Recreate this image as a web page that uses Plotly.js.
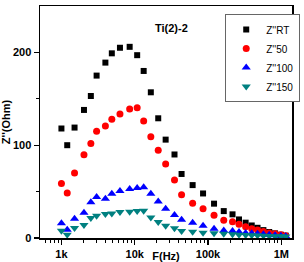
<!DOCTYPE html>
<html>
<head>
<meta charset="utf-8">
<script src="https://cdn.plot.ly/plotly-3.0.1.min.js"></script>
<style>html,body{margin:0;padding:0;background:#fff;}#chart{width:304px;height:262px;}</style>
</head>
<body>
<div id="chart"></div>
<script>
// Frequencies (Hz)
const freq = [1000,1200,1510,2030,2520,3020,3980,4870,6290,8530,10800,13250,16590,20930,26430,34900,43600,61700,85600,120900,164000,216000,265000,326000,395000,474000,570000,684000,822000,988000,1150000];
// Z'' values (Ohm)
const zRT  = [118,100,119,138,153,175,189,199,205,206,197,180,157,129,106,90,69,57,48,37,29,25.5,20,16.5,13.5,11,8.5,6.5,5,3.5,2.5];
const z50  = [58.6,48.5,70,89.6,101.7,115,120.8,128,133.7,139.1,140.4,126,109,94.6,79.7,62.5,46.6,37.4,31.6,24.5,19,17.5,14.8,12,10,8.5,7,5.5,4.5,3.5,2.5];
const z100 = [15.9,8.9,20.8,27.2,38.5,44.2,42.4,47.8,50.7,52.9,53.9,54.6,47.8,39.2,31.6,24.8,19.7,16.5,13.3,10,8,7.5,6.5,5.5,5,4.5,4,3.5,3,2.5,2];
const z150 = [7.9,3.6,10.7,13.9,21.5,23.9,25.8,26.5,28,28.3,29,29.4,22.2,17.3,13.3,10.5,7.5,6.8,5.7,5,4.5,4,3.5,3.2,3,2.8,2.5,2.2,2,1.8,1.5];
const seriesNames = ["Z''RT","Z''50","Z''100","Z''150"];
const xTickVals = [1000,10000,100000,1000000];
const xTickText = ["1k","10k","100k","1M"];
const xMinorVals = [600,700,800,900,2000,3000,4000,5000,6000,7000,8000,9000,20000,30000,40000,50000,60000,70000,80000,90000,200000,300000,400000,500000,600000,700000,800000,900000];

const styles = [
  {symbol:'square', color:'#000000', size:6},
  {symbol:'circle', color:'#ff0000', size:7},
  {symbol:'triangle-up', color:'#0000ff', size:8},
  {symbol:'triangle-down', color:'#008080', size:8}
];
const ys = [zRT, z50, z100, z150];
const traces = ys.map((y,i)=>({
  x: freq, y: y, type:'scatter', mode:'markers', name: seriesNames[i],
  marker:{symbol:styles[i].symbol, color:styles[i].color, size:styles[i].size, line:{width:0}}
}));

const font = {family:'Liberation Sans, Arial, sans-serif', size:11, color:'#000'};
const layout = {
  width:304, height:262,
  margin:{l:40, r:4, t:6, b:24},
  paper_bgcolor:'#fff', plot_bgcolor:'#fff',
  showlegend:true,
  font: font,
  xaxis:{
    type:'log', range:[Math.log10(510), Math.log10(1400000)],
    tickmode:'array', tickvals:xTickVals, ticktext:xTickText,
    ticks:'outside', ticklen:5, tickwidth:1.2, tickcolor:'#000',
    minor:{tickmode:'array', tickvals:xMinorVals, ticks:'outside', ticklen:3, tickwidth:1, tickcolor:'#000'},
    showline:true, linecolor:'#000', linewidth:1.5, mirror:true,
    showgrid:false, zeroline:false,
    tickfont:{family:'Liberation Sans, Arial, sans-serif', size:11, weight:'bold', color:'#000'},
    title:{text:'F(Hz)', font:{family:'Liberation Sans, Arial, sans-serif', size:11, weight:'bold', color:'#000'}, standoff:2}
  },
  yaxis:{
    range:[0,250],
    tickmode:'array', tickvals:[0,100,200],
    ticks:'outside', ticklen:5, tickwidth:1.2, tickcolor:'#000',
    minor:{tickmode:'array', tickvals:[50,150], ticks:'outside', ticklen:3, tickwidth:1, tickcolor:'#000'},
    showline:true, linecolor:'#000', linewidth:1.5, mirror:true,
    showgrid:false, zeroline:false,
    tickfont:{family:'Liberation Sans, Arial, sans-serif', size:11, weight:'bold', color:'#000'},
    title:{text:"Z''(Ohm)", font:{family:'Liberation Sans, Arial, sans-serif', size:11, weight:'bold', color:'#000'}, standoff:4}
  },
  legend:{
    x:0.735, y:0.965, xanchor:'left', yanchor:'top',
    bgcolor:'#fff', bordercolor:'#666', borderwidth:1,
    font:{family:'Liberation Sans, Arial, sans-serif', size:10, color:'#000'},
    tracegroupgap:0, itemwidth:30
  },
  annotations:[{
    text:'Ti(2)-2', xref:'paper', yref:'paper', x:0.45, y:0.905, xanchor:'left', yanchor:'middle',
    showarrow:false, font:{family:'Liberation Sans, Arial, sans-serif', size:11, weight:'bold', color:'#000'}
  }]
};
Plotly.newPlot('chart', traces, layout, {displayModeBar:false, staticPlot:true});
</script>
</body>
</html>
